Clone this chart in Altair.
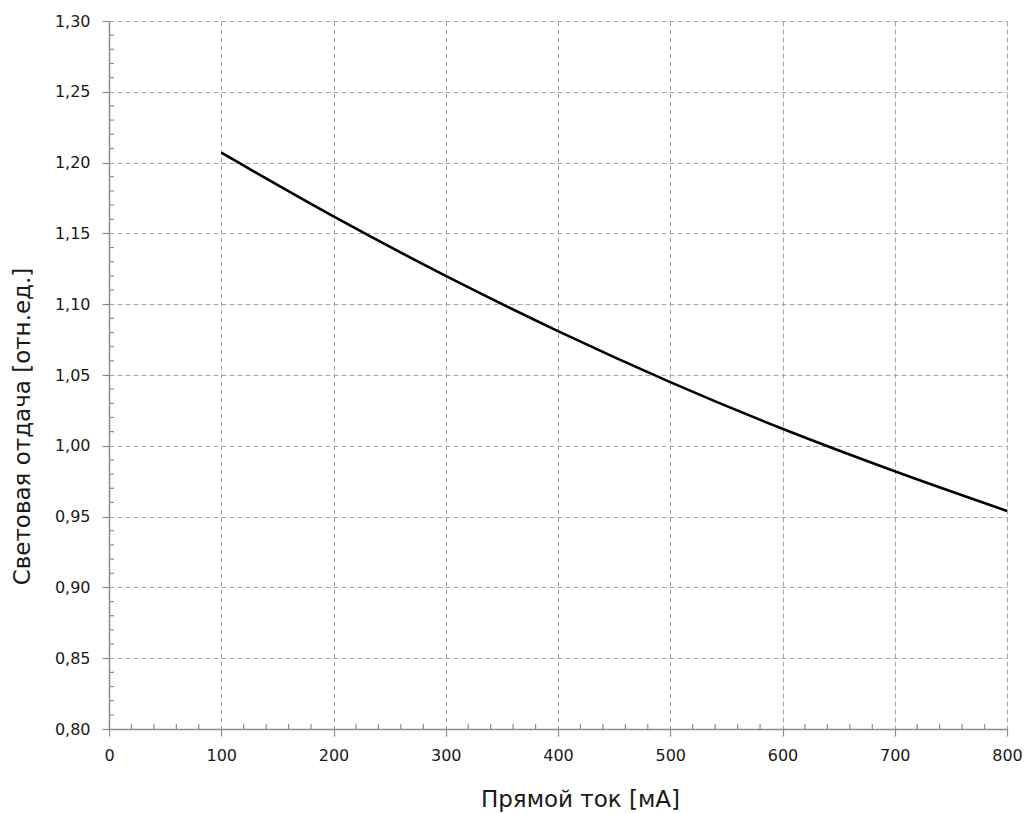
import altair as alt
import pandas as pd

# Data
current_ma = [100, 200, 300, 400, 500, 600, 700, 800]
efficacy = [1.207, 1.162, 1.120, 1.081, 1.045, 1.012, 0.982, 0.954]

x_major = [0, 100, 200, 300, 400, 500, 600, 700, 800]
y_major = [0.80, 0.85, 0.90, 0.95, 1.00, 1.05, 1.10, 1.15, 1.20, 1.25, 1.30]
x_minor = [v for v in range(0, 801, 20) if v % 100 != 0]
y_minor = [round(0.80 + i * 0.01, 2) for i in range(51) if i % 5 != 0]

W, H = 898, 708
AXIS_COLOR = "#8c8c8c"
GRID_COLOR = "#a6a6a6"
TEXT_COLOR = "#1a1a1a"

df = pd.DataFrame({"x": current_ma, "y": efficacy})
xscale = alt.Scale(domain=[0, 800], nice=False)
yscale = alt.Scale(domain=[0.80, 1.30], nice=False, zero=False)

line = alt.Chart(df).mark_line(
    color="black", strokeWidth=2.6, interpolate="monotone"
).encode(
    x=alt.X(
        "x:Q", scale=xscale,
        axis=alt.Axis(
            values=x_major, title="Прямой ток [мА]",
            grid=True, gridColor=GRID_COLOR, gridDash=[5, 3], gridWidth=1,
            domainColor=AXIS_COLOR, domainWidth=1.5,
            tickColor=AXIS_COLOR, tickSize=7, tickWidth=1.2,
            labelFont="DejaVu Sans", labelFontSize=16, labelColor=TEXT_COLOR,
            labelPadding=11, labelFlush=False,
            titleFont="DejaVu Sans", titleFontSize=23, titleFontWeight="normal",
            titleColor=TEXT_COLOR, titleBaseline="alphabetic",
            titleX=471, titleY=77,
        ),
    ),
    y=alt.Y(
        "y:Q", scale=yscale,
        axis=alt.Axis(
            values=y_major, title="Световая отдача [отн.ед.]",
            labelExpr="replace(format(datum.value, '.2f'), '.', ',')",
            grid=True, gridColor=GRID_COLOR, gridDash=[5, 3], gridWidth=1,
            domainColor=AXIS_COLOR, domainWidth=1.5,
            tickColor=AXIS_COLOR, tickSize=7, tickWidth=1.2,
            labelFont="DejaVu Sans", labelFontSize=16, labelColor=TEXT_COLOR,
            labelPadding=12, labelFlush=False,
            titleFont="DejaVu Sans", titleFontSize=23, titleFontWeight="normal",
            titleColor=TEXT_COLOR, titleBaseline="alphabetic",
            titleX=-80, titleY=405,
        ),
    ),
)

xminor_df = pd.DataFrame({"x": x_minor})
yminor_df = pd.DataFrame({"y": y_minor})

xminor = alt.Chart(xminor_df).mark_rule(color=AXIS_COLOR, strokeWidth=1.2).encode(
    x=alt.X("x:Q", scale=xscale),
    y=alt.value(H),
    y2=alt.value(H - 5),
)
yminor = alt.Chart(yminor_df).mark_rule(color=AXIS_COLOR, strokeWidth=1.2).encode(
    y=alt.Y("y:Q", scale=yscale),
    x=alt.value(0),
    x2=alt.value(5),
)

chart = alt.layer(line, xminor, yminor).properties(
    width=W, height=H,
    autosize=alt.AutoSizeParams(type="none"),
    padding={"left": 109, "top": 21, "right": 17, "bottom": 84},
    background="white",
).configure_view(strokeWidth=0)

chart.save("out.html", embed_options={"renderer": "svg", "actions": False})
